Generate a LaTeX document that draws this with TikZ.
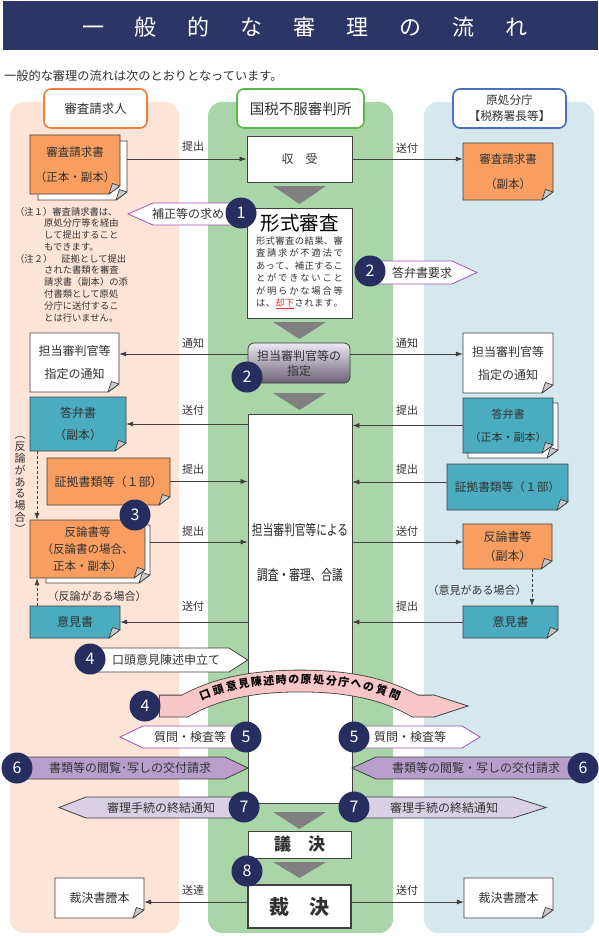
\documentclass[tikz,border=0pt]{standalone}
\usepackage{fontspec}
\setmainfont{Noto Sans CJK JP}
\usepackage{graphicx}
\usetikzlibrary{arrows.meta,decorations.markings,calc}
\definecolor{navy}{RGB}{44,54,102}
\definecolor{badgec}{RGB}{38,46,96}
\definecolor{laneL}{RGB}{253,228,214}
\definecolor{laneM}{RGB}{169,213,169}
\definecolor{laneR}{RGB}{213,232,238}
\definecolor{hdrL}{RGB}{242,125,60}
\definecolor{hdrM}{RGB}{86,186,72}
\definecolor{hdrR}{RGB}{72,112,192}
\definecolor{docO}{RGB}{247,158,96}
\definecolor{docT}{RGB}{75,172,192}
\definecolor{foldc}{RGB}{200,200,200}
\definecolor{edge}{RGB}{64,64,64}
\definecolor{txt}{RGB}{50,50,50}
\definecolor{trig}{RGB}{128,128,128}
\definecolor{purp}{RGB}{162,82,182}
\definecolor{sixf}{RGB}{185,158,204}
\definecolor{sevf}{RGB}{218,208,230}
\definecolor{bandf}{RGB}{248,198,198}
\definecolor{gtop}{RGB}{236,232,243}
\definecolor{gbot}{RGB}{108,98,116}
\definecolor{kred}{RGB}{230,45,45}
\newcommand\tsp{\hspace{31pt}}
\newcommand\spr[1]{\makebox[87pt]{\sprA#1\relax}}
\def\sprA#1{#1\sprB}
\def\sprB#1{\ifx\relax#1\else\hfill#1\expandafter\sprB\fi}
\newcommand\docsh[5]{%
  \filldraw[docline, fill=#5] (#1,#2) -- (#3,#2) -- (#3,#4-8) -- (#3-11,#4) -- (#1,#4) -- cycle;
  \filldraw[docline, fill=foldc, line join=round] (#3,#4-8) -- (#3-11,#4) -- (#3-7.6,#4-10.5) -- cycle;}
\newcommand\doc[8][]{%
  \docsh{#3}{#4}{#5}{#6}{#7}
  \node[doctext, minimum width={#5-#3}, minimum height={#6-#4}, #1] (#2) at ({(#3+#5)/2},{(#4+#6)/2}) {#8};}
\newcommand\backdoc[5]{%
  \docsh{#2}{#3}{#4}{#5}{white}
  \node[minimum width={#4-#2}, minimum height={#5-#3}] (#1) at ({(#2+#4)/2},{(#3+#5)/2}) {};}
\begin{document}
\begin{tikzpicture}[x=1pt,y=-1pt,
 every node/.style={text=txt,inner sep=0pt},
 hdr/.style={draw, line width=1.6pt, rounded corners=7pt, fill=white},
 proc/.style={draw=edge, line width=0.8pt, fill=white},
 docline/.style={draw=edge, line width=0.7pt},
 doctext/.style={align=center, font=\fontsize{12}{23}\selectfont},
 arr/.style={draw=edge, line width=0.7pt, -{Latex[length=7pt,width=5pt]}},
 darr/.style={arr, dash pattern=on 3pt off 2pt},
 lbl/.style={font=\fontsize{11}{11}\selectfont},
 badge/.style={circle, fill=badgec, text=white, minimum size=31pt, font=\fontsize{16}{16}\selectfont},
 trif/.style={fill=trig},
 pentP/.style={draw=purp, line width=0.8pt, fill=white},
 pentD/.style={draw=edge, line width=0.8pt},
 ptext/.style={font=\fontsize{12}{12}\selectfont},
 bandtxt/.style={transform shape, yshift=1.5pt, text=black, font=\fontsize{11}{11}\selectfont\bfseries},
]
\useasboundingbox (0,0) rectangle (598,936);
% lanes
\fill[laneL, rounded corners=14pt] (10,102) rectangle (179,933);
\fill[laneM, rounded corners=14pt] (208,102) rectangle (393,933);
\fill[laneR, rounded corners=14pt] (424,102) rectangle (594,933);
% title
\fill[navy] (3,1) rectangle (598,50);
\node[font=\fontsize{22}{22}\selectfont, text=white] (title) at (305,27) {一\tsp 般\tsp 的\tsp な\tsp 審\tsp 理\tsp の\tsp 流\tsp れ};
\node[anchor=west, font=\fontsize{12.2}{12.2}\selectfont] (sub) at (4,76) {一般的な審理の流れは次のとおりとなっています。};
% headers
\node[hdr, draw=hdrL, minimum width=103pt, minimum height=39pt, font=\fontsize{12.5}{12.5}\selectfont] (hL) at (95.5,108.5) {審査請求人};
\node[hdr, draw=hdrM, minimum width=127pt, minimum height=39pt, font=\fontsize{14.5}{14.5}\selectfont] (hM) at (300.5,108.5) {国税不服審判所};
\node[hdr, draw=hdrR, minimum width=113pt, minimum height=39pt, align=center, font=\fontsize{11.7}{16}\selectfont] (hR) at (509.5,108.5) {原処分庁\\【税務署長等】};
% middle column
\node[proc, minimum width=105pt, minimum height=46pt, font=\fontsize{12}{12}\selectfont] (receive) at (299.5,159) {収　受};
\fill[trif] (273,186) -- (326,186) -- (299.5,204) -- cycle;
\node[proc, minimum width=105pt, minimum height=110pt] (formal) at (299.5,263) {};
\node[font=\fontsize{19.5}{19.5}\selectfont, text=black] (formalT) at (299.5,223) {形式審査};
\node[anchor=north, align=center, font=\fontsize{9.3}{12.5}\selectfont] (formalB) at (299.5,236)
 {\spr{形式審査の結果、審}\\\spr{査請求が不適法で}\\\spr{あって、補正するこ}\\\spr{とができないこと}\\\spr{が明らかな場合等}\\
  \makebox[87pt]{は\hfill 、\hfill\textcolor{kred}{\underline{却下}}\hfill さ\hfill れ\hfill ま\hfill す\hfill 。}};
\fill[trif] (273,322) -- (326,322) -- (299.5,339) -- cycle;
\node[draw=edge, line width=0.8pt, rounded corners=6pt, top color=gtop, bottom color=gbot, minimum width=102pt, minimum height=40pt, align=center, font=\fontsize{12}{15}\selectfont] (assign) at (299,363) {担当審判官等の\\指定};
\fill[trif] (273,393) -- (326,393) -- (299.5,410) -- cycle;
\node[proc, minimum width=104pt, minimum height=389pt] (exam) at (300,608.5) {};
\node[text=black!85] (examT1) at (300,530) {\scalebox{0.74}[1]{\fontsize{14.5}{14.5}\selectfont 担当審判官等による}};
\node[text=black!85] (examT2) at (300,575) {\scalebox{0.74}[1]{\fontsize{14.5}{14.5}\selectfont 調査・審理、合議}};
\fill[trif] (273,812) -- (326,812) -- (299.5,829) -- cycle;
\node[proc, minimum width=103pt, minimum height=27pt, font=\fontsize{17}{17}\selectfont\bfseries] (giketsu) at (299.5,844.5) {議　決};
\fill[trif] (273,862) -- (326,862) -- (299.5,878) -- cycle;
\node[proc, line width=2pt, minimum width=103pt, minimum height=43pt, font=\fontsize{20}{20}\selectfont\bfseries] (kessai) at (299.5,906.5) {裁　決};
% documents left
\backdoc{req1b}{38}{141}{127}{200}
\doc[font=\fontsize{11.5}{25}\selectfont]{req1}{30}{135}{120}{194}{docO}{審査請求書\\（正本・副本）}
\doc{notiL}{30}{333}{119}{392}{white}{担当審判官等\\指定の通知}
\doc[font=\fontsize{12}{22}\selectfont]{ansL}{30}{397}{126}{451}{docT}{答弁書\\（副本）}
\doc[font=\fontsize{12}{12}\selectfont]{evL}{47}{458}{170}{505}{docO}{証拠書類等（１部）}
\backdoc{rebLb}{46}{525}{150}{583}
\doc[font=\fontsize{11.5}{17}\selectfont]{rebL}{30}{520}{145}{578}{docO}{反論書等\\（反論書の場合、\\正本・副本）}
\doc{opL}{30}{606}{120}{638}{docT}{意見書}
\doc{decL}{55}{878}{144}{918}{white}{裁決書謄本}
% documents right
\doc[font=\fontsize{11.5}{25}\selectfont]{req2}{463}{143}{553}{200}{docO}{審査請求書\\（副本）}
\doc{notiR}{463}{333}{553}{393}{white}{担当審判官等\\指定の通知}
\backdoc{ansRb}{468}{403}{558}{458}
\doc[font=\fontsize{11}{23}\selectfont]{ansR}{463}{398}{553}{453}{docT}{答弁書\\（正本・副本）}
\doc[font=\fontsize{11.7}{12}\selectfont]{evR}{447}{464}{568}{510}{docT}{証拠書類等（１部）}
\doc[font=\fontsize{12}{18}\selectfont]{rebR}{463}{524}{552}{569}{docO}{反論書等\\（副本）}
\doc{opR}{463}{606}{558}{638}{docT}{意見書}
\doc{decR}{464}{878}{553}{918}{white}{裁決書謄本}
% notes
\node[anchor=west, font=\fontsize{9.3}{12.2}\selectfont] (n1) at (15,212) {（注１）審査請求書は、};
\node[anchor=north west, align=left, font=\fontsize{9.3}{12.2}\selectfont] (n1c) at (44,218) {原処分庁等を経由\\して提出すること\\もできます。};
\node[anchor=west, font=\fontsize{9.3}{12.2}\selectfont] (n2) at (15,259) {（注２）\hspace{9pt}証拠として提出};
\node[anchor=north west, align=left, font=\fontsize{9.3}{12.2}\selectfont] (n2c) at (44,265) {された書類を審査\\請求書（副本）の添\\付書類として原処\\分庁に送付するこ\\とは行いません。};
% arrows
\draw[arr] (receive.west -| req1b.east) -- (receive.west);
\draw[arr] (receive.east) -- (receive.east -| req2.west);
\coordinate (asL) at ($(assign.west)+(0,-9)$);
\coordinate (asR) at ($(assign.east)+(0,-9)$);
\draw[arr] (asL) -- (asL -| notiL.east);
\draw[arr] (asR) -- (asR -| notiR.west);
\draw[arr] (exam.west |- ansL.east) -- (ansL.east);
\draw[arr] (ansR.west) -- (ansR.west -| exam.east);
\draw[arr] (evL.east) -- (evL.east -| exam.west);
\coordinate (evRa) at ($(evR.west)+(0,-5)$);
\draw[arr] (evRa) -- (evRa -| exam.east);
\coordinate (rbR) at ($(rebR.west)+(0,-4.5)$);
\draw[arr] (rbR -| rebLb.east) -- (rbR -| exam.west);
\draw[arr] (rbR -| exam.east) -- (rbR);
\draw[arr] (opL.east -| exam.west) -- (opL.east);
\draw[arr] (opR.west) -- (opR.west -| exam.east);
\coordinate (ksL) at ($(kessai.west)+(0,-4.5)$);
\coordinate (ksR) at ($(kessai.east)+(0,-4.5)$);
\draw[arr] (ksL) -- (ksL -| decL.east);
\draw[arr] (ksR) -- (ksR -| decR.west);
\coordinate (vx) at (37,0);
\coordinate (vx2) at (532,0);
\draw[darr] (ansL.south -| vx) -- (rebL.north -| vx);
\draw[darr] (opL.north -| vx) -- (rebL.south -| vx);
\draw[darr] (rebR.south -| vx2) -- (opR.north -| vx2);
% labels
\node[lbl] (l1) at (193,146) {提出};
\node[lbl] (l2) at (407,148) {送付};
\node[lbl] (l3) at (193,343) {通知};
\node[lbl] (l4) at (407,343) {通知};
\node[lbl] (l5) at (193,410) {送付};
\node[lbl] (l6) at (407,410) {提出};
\node[lbl] (l7) at (193,469) {提出};
\node[lbl] (l8) at (407,469) {提出};
\node[lbl] (l9) at (193,531) {提出};
\node[lbl] (l10) at (407,531) {送付};
\node[lbl] (l11) at (193,606) {送付};
\node[lbl] (l12) at (407,606) {提出};
\node[lbl] (l13) at (193,890) {送達};
\node[lbl] (l14) at (407,890) {送付};
\node[lbl] (c1) at (97,596) {（反論がある場合）};
\node[lbl] (c2) at (477,590) {（意見がある場合）};
\node[align=center, font=\fontsize{11}{11.8}\selectfont] (vt) at (20,485) {︵\\反\\論\\が\\あ\\る\\場\\合\\︶};
% pentagons
\filldraw[pentP] (241,203) -- (153,203) -- (128,214) -- (153,225) -- (241,225) -- cycle;
\node[ptext] (hosei) at (188,214) {補正等の求め};
\filldraw[pentP] (370,261) -- (452,261) -- (477,272.5) -- (452,284) -- (370,284) -- cycle;
\node[ptext] (toben) at (422,272.5) {答弁書要求};
\filldraw[pentD, fill=white] (90,648) -- (229,648) -- (exam.west |- 0,660) -- (229,672) -- (90,672) -- cycle;
\node[ptext] (koto) at (166,660) {口頭意見陳述申立て};
\filldraw[pentP] (246,726) -- (143,726) -- (120,737) -- (143,748) -- (246,748) -- cycle;
\node[ptext] (q5L) at (190,737) {質問・検査等};
\filldraw[pentP] (354,726) -- (462,726) -- (480,737) -- (462,748) -- (354,748) -- cycle;
\node[ptext] (q5R) at (410,737) {質問・検査等};
\filldraw[pentD, fill=sixf] (17,757) -- (225,757) -- (248,768) -- (225,779) -- (17,779) -- cycle;
\node[ptext] (r6L) at (130,768) {書類等の閲覧･写しの交付請求};
\filldraw[pentD, fill=sixf] (583,757) -- (376,757) -- (352,768) -- (376,779) -- (583,779) -- cycle;
\node[ptext] (r6R) at (476,768) {書類等の閲覧・写しの交付請求};
\filldraw[pentD, fill=sevf] (244,797) -- (86,797) -- (59,807.5) -- (86,818) -- (244,818) -- cycle;
\node[ptext] (r7L) at (161,807.5) {審理手続の終結通知};
\filldraw[pentD, fill=sevf] (354,797) -- (513,797) -- (546,807.5) -- (513,818) -- (354,818) -- cycle;
\node[ptext] (r7R) at (444,807.5) {審理手続の終結通知};
% curved band
\draw[line width=22.6pt, draw=edge] (159,706) -- (185,706) .. controls (203,696) and (235,681) .. (300,681) .. controls (365,681) and (397,696) .. (415,706) -- (433,706);
\draw[line width=21pt, draw=bandf, shorten <=0.8pt] (159,706) -- (185,706) .. controls (203,696) and (235,681) .. (300,681) .. controls (365,681) and (397,696) .. (415,706) -- (433.5,706);
\fill[bandf] (432,695.5) -- (468,706) -- (432,716.5) -- cycle;
\draw[edge, line width=0.8pt] (433,694.7) -- (468,706) -- (433,717.3);
\path[decoration={markings,
  mark=at position 22.8pt with {\node[bandtxt] (bt1) {口};},
  mark=at position 36.8pt with {\node[bandtxt] (bt2) {頭};},
  mark=at position 50.3pt with {\node[bandtxt] (bt3) {意};},
  mark=at position 62.8pt with {\node[bandtxt] (bt4) {見};},
  mark=at position 75.3pt with {\node[bandtxt] (bt5) {陳};},
  mark=at position 87.8pt with {\node[bandtxt] (bt6) {述};},
  mark=at position 100.3pt with {\node[bandtxt] (bt7) {時};},
  mark=at position 112.8pt with {\node[bandtxt] (bt8) {の};},
  mark=at position 125.3pt with {\node[bandtxt] (bt9) {原};},
  mark=at position 137.8pt with {\node[bandtxt] (bt10) {処};},
  mark=at position 150.3pt with {\node[bandtxt] (bt11) {分};},
  mark=at position 162.8pt with {\node[bandtxt] (bt12) {庁};},
  mark=at position 175.3pt with {\node[bandtxt] (bt13) {へ};},
  mark=at position 187.8pt with {\node[bandtxt] (bt14) {の};},
  mark=at position 201.3pt with {\node[bandtxt] (bt15) {質};},
  mark=at position 215.3pt with {\node[bandtxt] (bt16) {問};}},
  postaction={decorate}] (185,706) .. controls (203,696) and (235,681) .. (300,681) .. controls (365,681) and (397,696) .. (415,706);
% badges
\node[badge] (b1) at (241,213) {1};
\node[badge] (b2a) at (370,271) {2};
\node[badge] (b2b) at (247,377) {2};
\node[badge] (b3) at (135,515) {3};
\node[badge] (b4a) at (90,659) {4};
\node[badge] (b4b) at (145,706) {4};
\node[badge] (b5a) at (246,737) {5};
\node[badge] (b5b) at (354,737) {5};
\node[badge] (b6a) at (17,768) {6};
\node[badge] (b6b) at (583,768) {6};
\node[badge] (b7a) at (244,807) {7};
\node[badge] (b7b) at (354,807) {7};
\node[badge] (b8) at (247,871) {8};
\end{tikzpicture}
\end{document}
